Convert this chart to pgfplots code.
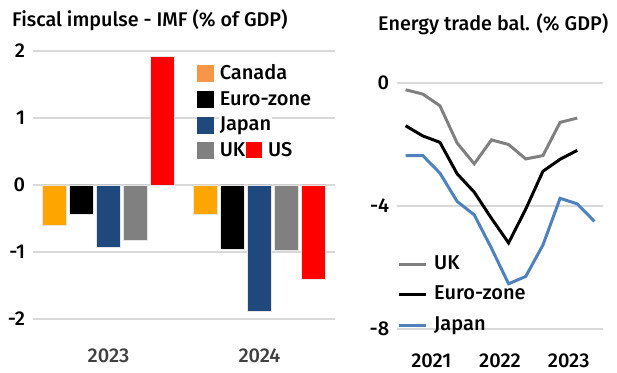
\documentclass[border=0pt]{standalone}
\usepackage{pgfplots}
\pgfplotsset{compat=1.18}
\usepackage{fontspec}
\setmainfont{Fira Sans}[UprightFont={* Medium}]
\definecolor{canbar}{HTML}{FFA500}
\definecolor{canleg}{HTML}{F79646}
\definecolor{jpbar}{HTML}{1F497D}
\definecolor{ukbar}{HTML}{808080}
\definecolor{usbar}{HTML}{FF0000}
\definecolor{jpline}{HTML}{4F81BD}
\definecolor{gridc}{HTML}{D9D9D9}
\definecolor{xlab}{HTML}{404040}
\begin{document}
\fontsize{20}{23}\selectfont
\begin{tikzpicture}[x=1pt,y=1pt]
\path[use as bounding box] (0,0) rectangle (617,372);
\node[anchor=base west,inner sep=0pt,font=\fontsize{19.8}{22}\selectfont] at (12,345) {Fiscal impulse - IMF (\% of GDP)};
\node[anchor=base west,inner sep=0pt,font=\fontsize{19.8}{22}\selectfont] at (378,341) {Energy trade bal. (\% GDP)};
\begin{axis}[
  at={(33pt,53pt)}, anchor=south west, scale only axis,
  width=302pt, height=268pt,
  xmin=-0.5, xmax=1.5, ymin=-2, ymax=2,
  ytick={-2,-1,0,1,2}, xtick={0,1}, xticklabels={2023,2024},
  /pgf/number format/assume math mode=true,
  axis line style={draw=none}, major tick style={draw=none},
  ymajorgrids, grid style={gridc, line width=1.2pt},
  yticklabel style={xshift=-1pt},
  xticklabel style={yshift=-19pt, text=xlab},
  ybar=3pt, bar width=24pt,
  legend style={draw=none, fill=none, at={(rel axis cs:0.543,0.95)}, anchor=north west,
    inner sep=0pt, row sep=5.7pt, nodes={inner sep=1pt, fill=white, text height=14pt, text depth=4pt},
    /tikz/every odd column/.append style={column sep=5pt}},
  legend cell align=left,
]
\addplot[fill=canbar, draw=white!80!gray, line width=0.6pt,
  legend image code/.code={\fill[canleg] (0pt,-7pt) rectangle (16pt,9pt);}]
  coordinates {(0,-0.60) (1,-0.43)};
\addlegendentry{Canada}
\addplot[fill=black, draw=white!80!gray, line width=0.6pt,
  legend image code/.code={\fill[black] (0pt,-7pt) rectangle (16pt,9pt);}]
  coordinates {(0,-0.44) (1,-0.96)};
\addlegendentry{Euro-zone}
\addplot[fill=jpbar, draw=white!80!gray, line width=0.6pt,
  legend image code/.code={\fill[jpbar] (0pt,-7pt) rectangle (16pt,9pt);}]
  coordinates {(0,-0.93) (1,-1.88)};
\addlegendentry{Japan}
\addplot[fill=ukbar, draw=white!80!gray, line width=0.6pt,
  legend image code/.code={\fill[ukbar] (0pt,-7pt) rectangle (16pt,9pt);}]
  coordinates {(0,-0.83) (1,-0.98)};
\addlegendentry{UK\hspace{1pt}{\color{usbar}\rule[-1pt]{16pt}{16pt}}\hspace{6pt}US}
\addplot[fill=usbar, draw=white!80!gray, line width=0.6pt]
  coordinates {(0,1.92) (1,-1.40)};
\end{axis}
\begin{axis}[
  at={(397pt,43pt)}, anchor=south west, scale only axis,
  width=206pt, height=246pt,
  xmin=2021, xmax=2024, ymin=-8, ymax=0,
  ytick={-8,-4,0}, xtick={2021.5,2022.5,2023.5}, xticklabels={2021,2022,2023},
  /pgf/number format/assume math mode=true,
  axis line style={draw=none}, major tick style={draw=none},
  ymajorgrids, grid style={gridc, line width=1.2pt},
  yticklabel style={xshift=-1pt},
  xticklabel style={yshift=-18pt},
  clip=false,
  legend style={draw=none, fill=none, at={(rel axis cs:0,0.305)}, anchor=north west,
    inner sep=0pt, row sep=10.5pt, nodes={inner sep=1pt, text height=14pt, text depth=4pt},
    /tikz/every odd column/.append style={column sep=6pt}},
  legend cell align=left,
  legend image code/.code={\draw[#1] (0pt,0pt) -- (27pt,0pt);},
]
\addplot[ukbar, line width=3pt] coordinates {
(2021.125,-0.22) (2021.375,-0.36) (2021.625,-0.74) (2021.875,-1.95)
(2022.125,-2.63) (2022.375,-1.85) (2022.625,-2.00) (2022.875,-2.47)
(2023.125,-2.36) (2023.375,-1.28) (2023.625,-1.14)};
\addlegendentry{UK}
\addplot[black, line width=3pt] coordinates {
(2021.125,-1.39) (2021.375,-1.72) (2021.625,-1.93) (2021.875,-2.95)
(2022.125,-3.55) (2022.375,-4.40) (2022.625,-5.20) (2022.875,-4.10)
(2023.125,-2.87) (2023.375,-2.48) (2023.625,-2.19)};
\addlegendentry{Euro-zone}
\addplot[jpline, line width=3pt] coordinates {
(2021.125,-2.36) (2021.375,-2.36) (2021.625,-2.93) (2021.875,-3.85)
(2022.125,-4.29) (2022.375,-5.37) (2022.625,-6.53) (2022.875,-6.29)
(2023.125,-5.27) (2023.375,-3.75) (2023.625,-3.93) (2023.875,-4.50)};
\addlegendentry{Japan}
\end{axis}
\end{tikzpicture}
\end{document}
